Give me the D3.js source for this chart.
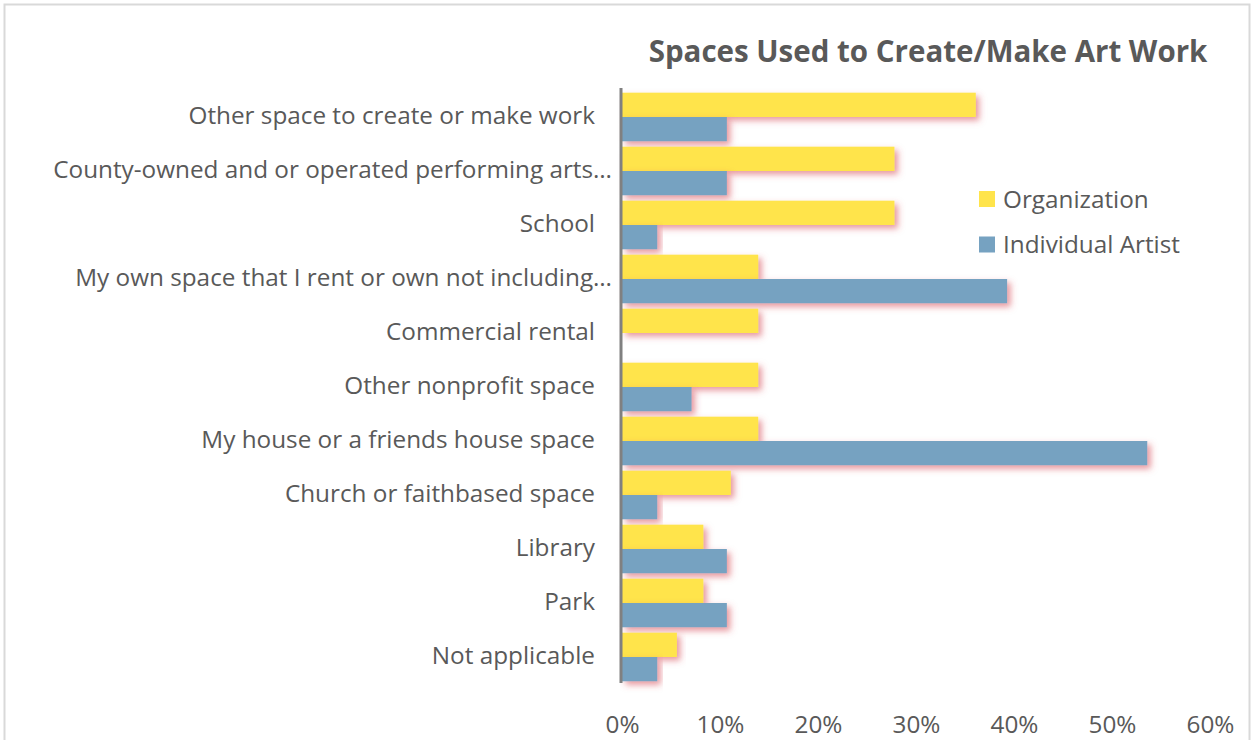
<!DOCTYPE html>
<html>
<head>
<meta charset="utf-8">
<script src="https://cdn.jsdelivr.net/npm/d3@7"></script>
<style>
  html, body { margin: 0; padding: 0; background: #fff; }
  svg { display: block; }
  text { font-family: "Open Sans", "Noto Sans", sans-serif; fill: #595959; }
</style>
</head>
<body>
<svg id="chart" width="1254" height="740"></svg>
<script>
// Spaces used to create/make art work, share of respondents (%)
const categories = [
  "Other space to create or make work",
  "County-owned and or operated performing arts…",
  "School",
  "My own space that I rent or own not including…",
  "Commercial rental",
  "Other nonprofit space",
  "My house or a friends house space",
  "Church or faithbased space",
  "Library",
  "Park",
  "Not applicable"
];
const organization = [36.1, 27.8, 27.8, 13.9, 13.9, 13.9, 13.9, 11.1, 8.3, 8.3, 5.6];
const individualArtist = [10.7, 10.7, 3.6, 39.3, 0, 7.1, 53.6, 3.6, 10.7, 10.7, 3.6];
const seriesNames = ["Organization", "Individual Artist"];
const seriesColors = ["#FFE44B", "#76A2C1"];
const xTicks = [0, 10, 20, 30, 40, 50, 60];
const title = "Spaces Used to Create/Make Art Work";

const svg = d3.select("#chart");
const W = 1254, H = 740;
const fontSize = 24.3;

// Outer chart frame
svg.append("rect")
  .attr("x", 4.5).attr("y", 4.5)
  .attr("width", W - 9).attr("height", H)
  .attr("fill", "#fff").attr("stroke", "#d9d9d9").attr("stroke-width", 2);

// Soft reddish drop shadow under each bar
const defs = svg.append("defs");
const f = defs.append("filter").attr("id", "barShadow")
  .attr("x", "-5%").attr("y", "-40%").attr("width", "120%").attr("height", "200%");
f.append("feDropShadow")
  .attr("dx", 3.5).attr("dy", 3.5).attr("stdDeviation", 3)
  .attr("flood-color", "#d4424f").attr("flood-opacity", 0.55);

const x = d3.scaleLinear().domain([0, 60]).range([622, 1210]);
const y = d3.scaleBand().domain(categories).range([90, 684]).paddingInner(0.1).paddingOuter(0.05);
const sub = d3.scaleBand().domain(seriesNames).range([0, y.bandwidth()]);

const rows = categories.map((c, i) => ({ c, vals: [organization[i], individualArtist[i]] }));

const g = svg.append("g");
const grp = g.selectAll("g.cat").data(rows).join("g")
  .attr("class", "cat")
  .attr("transform", d => `translate(0,${y(d.c)})`);

grp.selectAll("rect").data(d => d.vals.map((v, k) => ({ v, k })).filter(e => e.v > 0))
  .join("rect")
  .attr("x", x(0))
  .attr("y", e => sub(seriesNames[e.k]))
  .attr("width", e => x(e.v) - x(0))
  .attr("height", sub.bandwidth())
  .attr("fill", e => seriesColors[e.k])
  .attr("filter", "url(#barShadow)");

// Vertical category axis line
svg.append("line")
  .attr("x1", x(0) - 1).attr("x2", x(0) - 1)
  .attr("y1", y.range()[0] - 2).attr("y2", y.range()[1] - 1)
  .attr("stroke", "#808080").attr("stroke-width", 3);

// Category labels
svg.append("g").selectAll("text").data(categories).join("text")
  .attr("x", d => d.endsWith("…") ? x(0) - 10 : x(0) - 27)
  .attr("y", d => y(d) + y.bandwidth() / 2 + 6.5)
  .attr("text-anchor", "end")
  .attr("font-size", fontSize)
  .text(d => d);

// Percentage axis labels
const xAxis = d3.axisBottom(x).tickValues(xTicks).tickFormat(d => d + "%").tickSize(0).tickPadding(0);
const ax = svg.append("g").attr("transform", "translate(0,733)").call(xAxis);
ax.select(".domain").remove();
ax.selectAll("text")
  .attr("font-size", fontSize)
  .attr("fill", "#595959")
  .attr("y", 0)
  .attr("dy", 0)
  .style("font-family", "'Open Sans', 'Noto Sans', sans-serif");

// Title
svg.append("text")
  .attr("x", 928).attr("y", 62)
  .attr("text-anchor", "middle")
  .attr("font-size", 29.5)
  .attr("font-weight", "bold")
  .text(title);

// Legend
const leg = svg.append("g").attr("transform", "translate(979,191)");
const li = leg.selectAll("g").data(seriesNames).join("g")
  .attr("transform", (d, i) => `translate(0,${i * 45.5})`);
li.append("rect").attr("width", 16).attr("height", 16)
  .attr("fill", (d, i) => seriesColors[i]);
li.append("text").attr("x", 24).attr("y", 16.5)
  .attr("font-size", fontSize).text(d => d);
</script>
</body>
</html>
